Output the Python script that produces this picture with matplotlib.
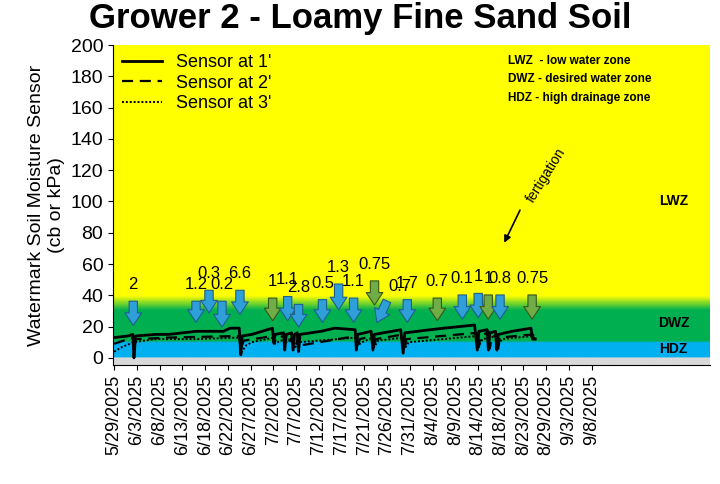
import numpy as np
import matplotlib.pyplot as plt
from matplotlib.patches import FancyArrowPatch
from matplotlib.colors import LinearSegmentedColormap

plt.rcParams["font.family"] = "Liberation Sans"

# category axis labels (evenly spaced in the original)
dates = ["5/29/2025", "6/3/2025", "6/8/2025", "6/13/2025", "6/18/2025", "6/22/2025",
         "6/27/2025", "7/2/2025", "7/7/2025", "7/12/2025", "7/17/2025", "7/21/2025",
         "7/26/2025", "7/31/2025", "8/4/2025", "8/9/2025", "8/14/2025", "8/18/2025",
         "8/23/2025", "8/29/2025", "9/3/2025", "9/8/2025"]

# sensor traces, knots in tick-index units
s1_x = [0.0, 0.6, 0.82, 0.87, 0.94, 1.8, 2.4, 3.6, 3.7, 4.8, 5.1, 5.5, 5.57, 5.63, 6.05,
        6.96, 7.02, 7.08, 7.45, 7.5, 7.57, 7.8, 7.87, 7.93, 8.05, 8.11, 8.17, 9.1, 9.7,
        10.6, 10.65, 10.71, 11.3, 11.38, 11.44, 12.6, 12.71, 12.78, 13.9, 14.5, 15.85, 15.97, 16.04,
        16.4, 16.46, 16.52, 16.77, 16.83, 16.89, 17.5, 18.33, 18.4, 18.52]
s1_y = [13, 14, 15, 0, 14, 15, 15, 17, 17, 17, 19, 19, 2, 14, 15,
        19, 10, 15, 16, 5, 15, 16, 5, 15, 16, 4, 15, 17, 19,
        18, 5, 15, 17, 5, 15, 18, 3, 16, 18, 19, 21, 5, 17,
        18, 5, 16, 17, 5, 15, 17, 19, 12, 12]
s2_x = [0.0, 0.6, 0.87, 0.97, 2.4, 5.5, 5.57, 5.7, 6.96, 7.02, 7.15, 7.5, 7.6, 7.87, 7.98,
        8.11, 8.2, 10.65, 10.71, 10.8, 11.38, 11.44, 11.5, 12.71, 12.78, 12.85, 15.97, 16.04, 16.1,
        16.46, 16.52, 16.6, 16.83, 16.89, 16.95, 18.4, 18.52]
s2_y = [9, 12, 13, 12, 13, 14, 6, 11, 14, 9, 13, 14, 8, 14, 8,
        13, 8, 14, 6, 12, 14, 6, 12, 15, 5, 12, 16, 7, 13,
        17, 6, 13, 15, 6, 13, 15, 13]
s3_x = [0.0, 0.35, 0.85, 1.8, 3.6, 5.5, 5.57, 5.8, 6.05, 7.02, 7.08, 7.3, 7.87, 7.93, 8.1,
        10.65, 10.71, 10.9, 11.38, 11.44, 11.6, 12.71, 12.78, 12.95, 15.97, 16.04, 16.2, 16.83, 16.89,
        17.05, 18.4, 18.52]
s3_y = [4, 7, 10, 12, 12, 13, 3, 8, 10, 13, 9, 11, 12, 6, 10,
        13, 8, 10, 13, 7, 11, 13, 6, 10, 14, 8, 12, 14, 8,
        12, 14, 12]

# fertigation arrows: x index, top, bottom, label, color
arr_x = [0.84, 3.60, 4.17, 4.74, 5.53, 6.97, 7.63, 8.11, 9.16, 9.87, 10.53, 11.45, 12.89,
         14.21, 15.31, 16.01, 16.45, 16.97, 18.38]
arr_top = [38, 38, 45, 38, 45, 40, 41, 36, 39, 49, 40, 51, 39, 40, 42, 43, 42, 42, 42]
arr_bot = [19, 21, 27, 18, 26, 22, 22, 18, 21, 29, 21, 32, 21, 22, 23, 24, 23, 23, 23]
arr_lab = ["2", "1.2", "0.3", "0.2", "6.6", "1", "1.1", "2.8", "0.5", "1.3", "1.1",
           "0.75", "1.7", "0.7", "0.1", "1", "1", "0.8", "0.75"]
arr_green = [False, False, False, False, False, True, False, False, False, False, False,
             True, False, True, False, False, True, False, True]
# the slanted one
diag_x0, diag_y0, diag_x1, diag_y1 = 12.05, 38, 11.5, 21

fig = plt.figure(figsize=(7.2, 4.84), dpi=100)
ax = fig.add_axes([0.157, 0.246, 0.829, 0.661])
xr = 26.2
ax.set_xlim(-0.05, xr)
ax.set_ylim(-4.5, 200)

# background zones
cmap = LinearSegmentedColormap.from_list(
    "zones", [(0, "#d9d9d9"), (0.0219, "#d9d9d9"), (0.0220, "#00b0f0"),
              (0.07, "#00b0f0"), (0.071, "#00b050"), (0.17, "#00b050"),
              (0.215, "#ffff00"), (1, "#ffff00")])
grad = np.linspace(0, 1, 800).reshape(-1, 1)
ax.imshow(grad, extent=[-0.05, xr, -4.5, 200], origin="lower", aspect="auto",
          cmap=cmap, zorder=0)

l1, = ax.plot(s1_x, s1_y, color="black", lw=2, zorder=3)
l2, = ax.plot(s2_x, s2_y, color="black", lw=1.6, ls=(0, (5, 3)), zorder=3)
l3, = ax.plot(s3_x, s3_y, color="black", lw=1.4, ls=(0, (1, 1)), zorder=3)

style = "simple,head_width=12,head_length=9,tail_width=6"
for x, t, b, lab, g in zip(arr_x, arr_top, arr_bot, arr_lab, arr_green):
    fc = "#70ad47" if g else "#2e9fd8"
    ec = "#38571a" if g else "#1f5f8b"
    ax.add_patch(FancyArrowPatch((x, t), (x, b), arrowstyle=style,
                                 fc=fc, ec=ec, lw=0.8, zorder=4, mutation_scale=1))
    ax.text(x, t + 4, lab, ha="center", va="bottom", fontsize=12, zorder=5)
ax.add_patch(FancyArrowPatch((diag_x0, diag_y0), (diag_x1, diag_y1), arrowstyle=style,
                             fc="#2e9fd8", ec="#1f5f8b", lw=0.8, zorder=4, mutation_scale=1))
ax.text(12.05, 41, "0.7", ha="left", va="bottom", fontsize=12, zorder=5)

ax.annotate("", xy=(17.1, 72), xytext=(17.9, 96),
            arrowprops=dict(arrowstyle="-|>", color="black", lw=1.2), zorder=5)
ax.text(18.0, 98, "fertigation", rotation=58, fontsize=10, ha="left", va="bottom")

ax.text(24.6, 100, "LWZ", fontsize=10, fontweight="bold", ha="center", va="center")
ax.text(24.6, 22, "DWZ", fontsize=10, fontweight="bold", ha="center", va="center")
ax.text(24.6, 6, "HDZ", fontsize=10, fontweight="bold", ha="center", va="center")
ax.text(17.3, 190, "LWZ  - low water zone", fontsize=8.5, fontweight="bold", va="center")
ax.text(17.3, 178, "DWZ - desired water zone", fontsize=8.5, fontweight="bold", va="center")
ax.text(17.3, 166, "HDZ - high drainage zone", fontsize=8.5, fontweight="bold", va="center")

ax.legend([l1, l2, l3], ["Sensor at 1'", "Sensor at 2'", "Sensor at 3'"],
          loc="upper left", frameon=False, fontsize=13, handlelength=2.2,
          borderaxespad=0.1, labelspacing=0.2)

ax.set_xticks(range(len(dates)))
ax.set_xticklabels(dates, rotation=90, fontsize=13)
ax.set_yticks(range(0, 201, 20))
ax.tick_params(axis="y", labelsize=14)
ax.set_ylabel("Watermark Soil Moisture Sensor\n(cb or kPa)", fontsize=14)
for s in ["top", "right"]:
    ax.spines[s].set_visible(False)
fig.suptitle("Grower 2 - Loamy Fine Sand Soil", fontsize=25, fontweight="bold", y=0.995)

fig.savefig("out.png", dpi=100)
